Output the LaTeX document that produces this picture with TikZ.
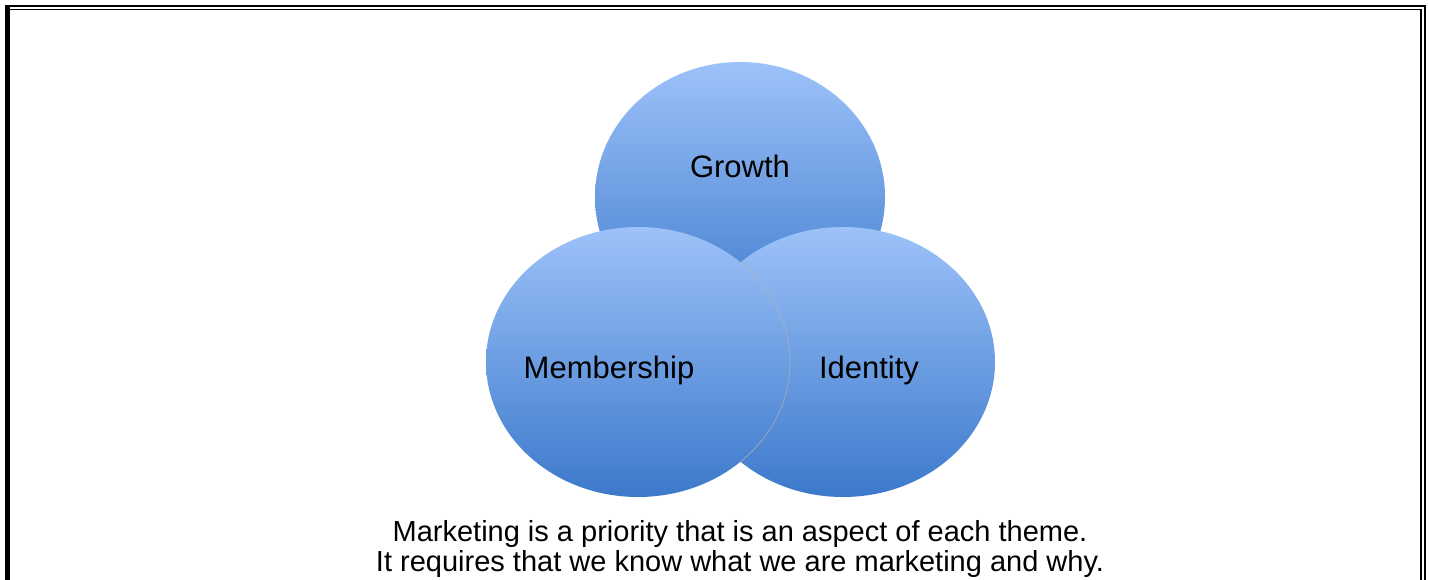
\documentclass[tikz,border=0pt]{standalone}
\usepackage{fontspec}
\setmainfont{Liberation Sans}
\usetikzlibrary{shapes.geometric}
\definecolor{blobtop}{HTML}{9DC2F9}
\definecolor{blobbot}{HTML}{3C79CB}
\tikzset{
  blob/.style={ellipse, inner sep=0pt, top color=blobtop, bottom color=blobbot, draw=none},
  lbl/.style={font=\fontsize{31}{36}\selectfont, text=black, inner sep=0pt},
  captiontext/.style={font=\fontsize{29}{30}\selectfont, align=center, inner sep=0pt, text=black},
  frame/.style={line width=1.6pt, draw=black}
}
\begin{document}
\begin{tikzpicture}[x=1pt,y=-1pt]
\useasboundingbox (0,0) rectangle (1429,580);
\fill[white] (0,0) rectangle (1429,580);
% frame
\draw[frame] (5.8,5.8) -- (1425.2,5.8) -- (1425.2,600);
\draw[frame] (9.2,9.5) -- (1420.8,9.5) -- (1420.8,600);
\fill[black] (5,5) rectangle (9.5,600);
% ellipses
\node[blob, minimum width=290pt, minimum height=270pt] (growth) at (740,197) {};
\node[blob, minimum width=304pt, minimum height=270pt] (right) at (843,362) {};
\node[blob, minimum width=304pt, minimum height=270pt] (left) at (638,362) {};
\begin{scope}
  \clip (right.center) ellipse [x radius=152pt, y radius=135pt];
  \draw[gray!60, line width=0.5pt] (left.center) ellipse [x radius=152pt, y radius=135pt];
\end{scope}
% labels
\node[lbl] (tg) at (740,166) {Growth};
\node[lbl] (tm) at (609,370) {Membership};
\node[lbl] (ti) at (869,370) {Identity};
\node[captiontext] (caption) at (740,549) {Marketing is a priority that is an aspect of each theme.\\It requires that we know what we are marketing and why.};
\end{tikzpicture}
\end{document}
